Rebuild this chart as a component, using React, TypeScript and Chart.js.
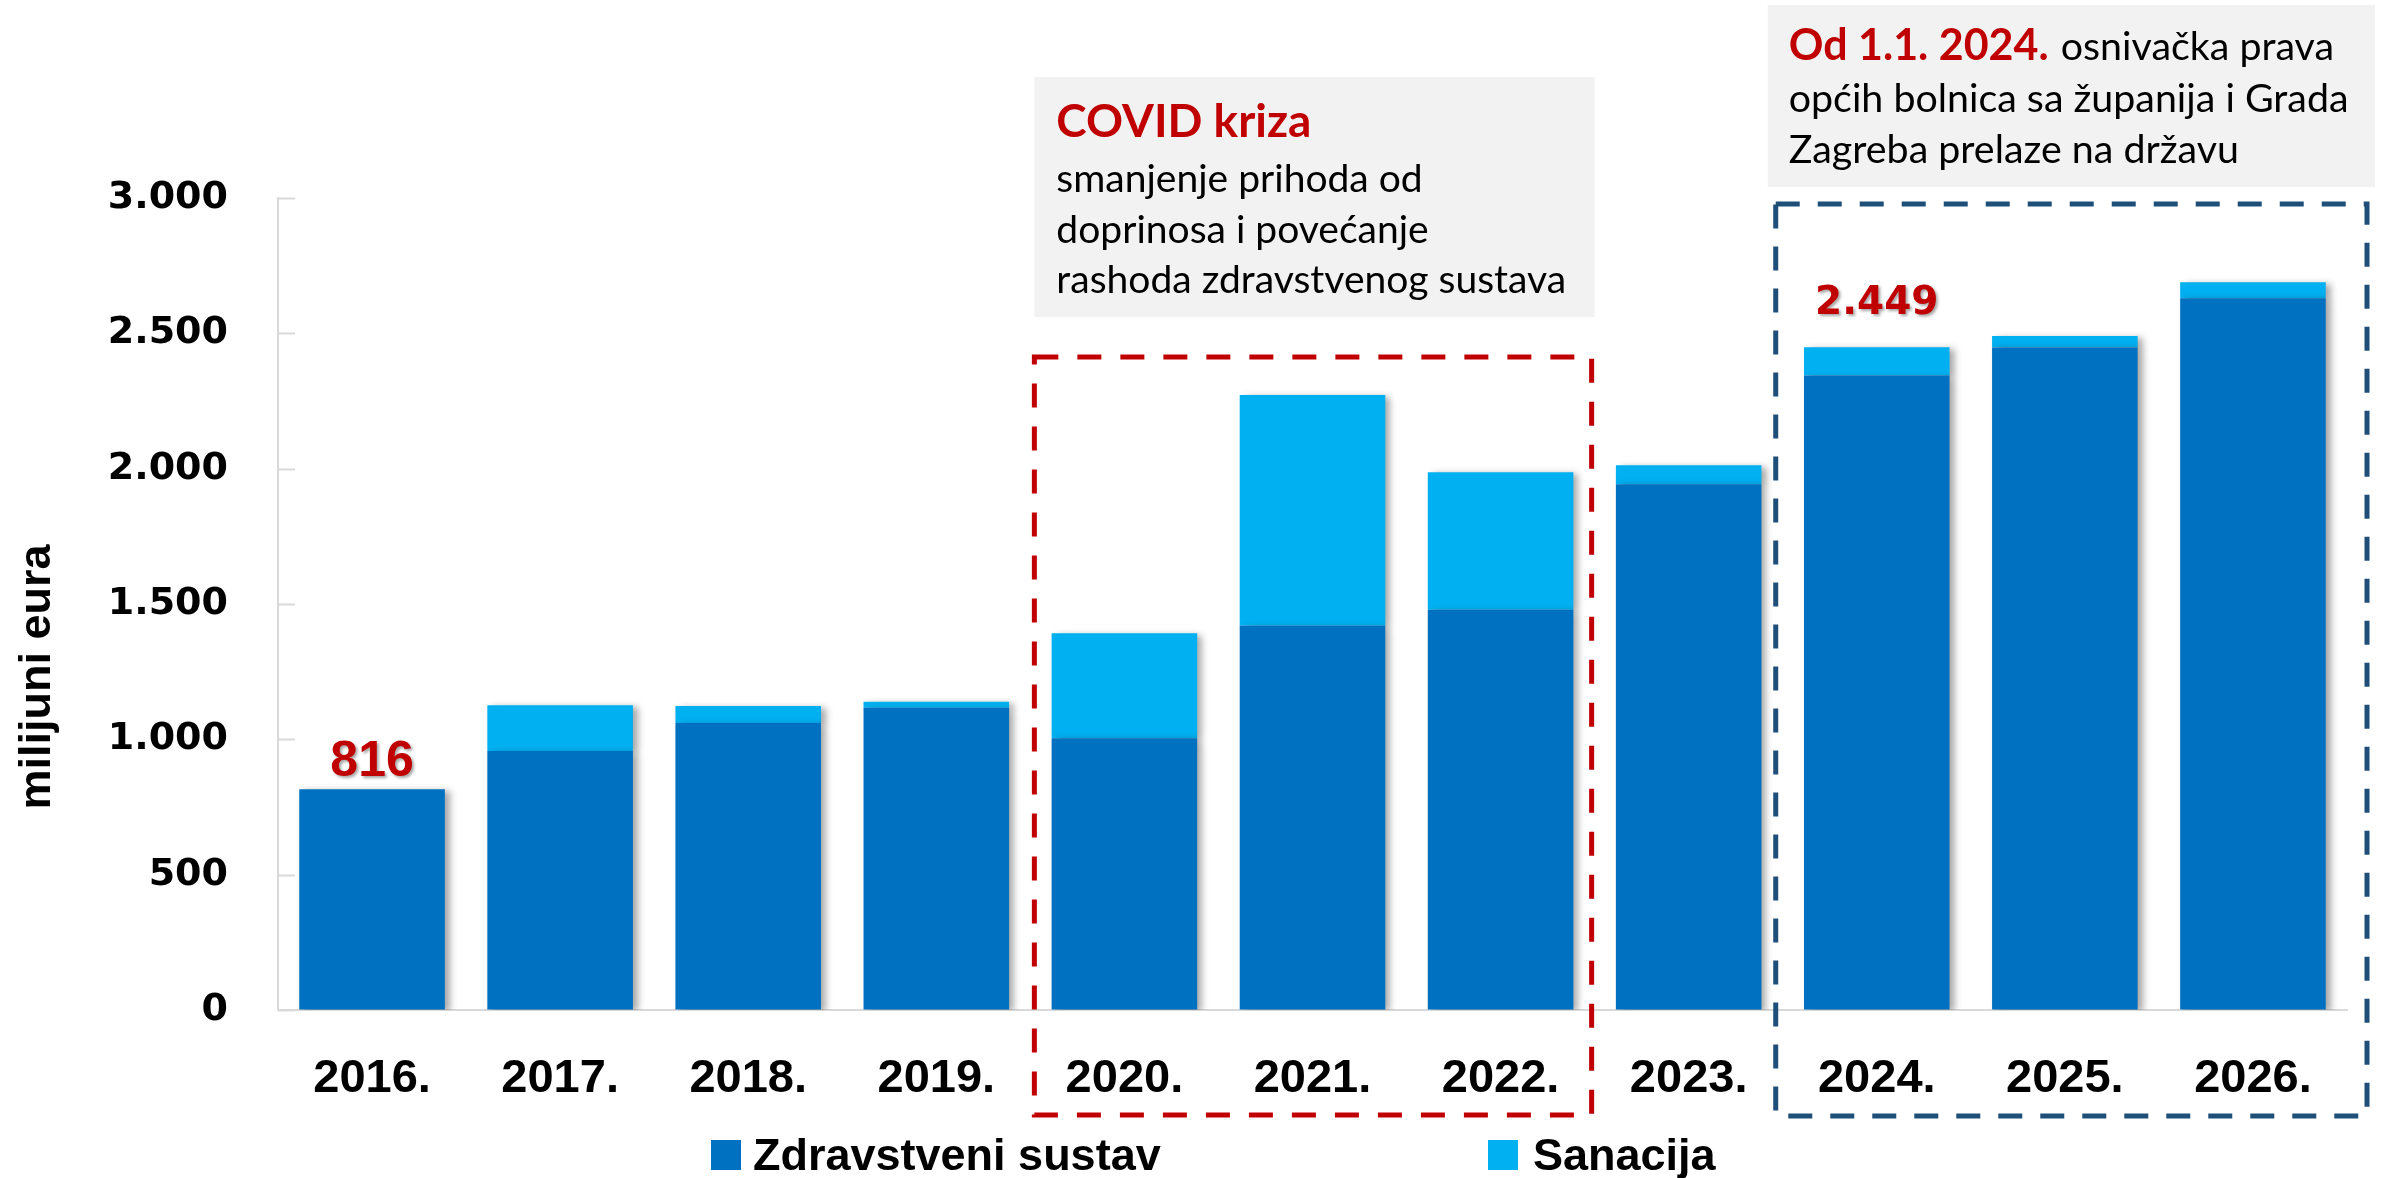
import { useEffect, useRef } from 'react';
import { Chart, registerables } from 'chart.js';

Chart.register(...registerables);

// ---------- data ----------
const years = ['2016.', '2017.', '2018.', '2019.', '2020.', '2021.', '2022.', '2023.', '2024.', '2025.', '2026.'];
const zdravstveniSustav = [816, 957, 1060, 1117, 1004, 1420, 1479, 1942, 2344, 2448, 2630];
const sanacija = [0, 169, 63, 22, 388, 852, 508, 71, 105, 42, 59];
const yTickValues = [0, 500, 1000, 1500, 2000, 2500, 3000];
const seriesNames = ['Zdravstveni sustav', 'Sanacija'];
const labelledYears = ['2016.', '2024.'];
const yAxisTitle = 'milijuni eura';
const covidTitle = 'COVID kriza';
const covidLines = ['smanjenje prihoda od', 'doprinosa i povećanje', 'rashoda zdravstvenog sustava'];
const covidYears = ['2020.', '2022.'];
const reformTitle = 'Od 1.1. 2024.';
const reformLines = [' osnivačka prava', 'općih bolnica sa županija i Grada', 'Zagreba prelaze na državu'];
const reformYears = ['2024.', '2026.'];

// ---------- styles ----------
const DARK = '#0070C0';
const LIGHT = '#00B0F0';
const RED = '#C00000';
const NAVY = '#1F4E79';
const AXIS = '#D9D9D9';
const BOXFILL = '#F2F2F2';
const W = 2387;
const H = 1178;

const fmt = (n: number) => String(Math.round(n)).replace(/\B(?=(\d{3})+(?!\d))/g, '.');

function fitSize(ctx: CanvasRenderingContext2D, text: string, weight: string, family: string, target: number) {
  ctx.font = `${weight} 100px ${family}`;
  const w = ctx.measureText(text).width;
  return (100 * target) / w;
}

const shadowPlugin = {
  id: 'barShadow',
  beforeDatasetsDraw(chart: any) {
    const ctx = chart.ctx;
    ctx.save();
    ctx.shadowColor = 'rgba(0,0,0,0.35)';
    ctx.shadowBlur = 7;
    ctx.shadowOffsetX = 5;
    ctx.shadowOffsetY = 2;
  },
  afterDatasetsDraw(chart: any) {
    chart.ctx.restore();
  },
};

const labelStyles: Record<string, { font: string; gap: number }> = {
  '2016.': { font: 'bold 50px "Liberation Sans", Arial, sans-serif', gap: 13 },
  '2024.': { font: 'bold 39px "DejaVu Sans", Verdana, sans-serif', gap: 33 },
};

const overlayPlugin = {
  id: 'overlay',
  afterDraw(chart: any) {
    const { ctx, chartArea, scales } = chart;
    const x = scales.x;
    const y = scales.y;
    const band = x.getPixelForValue(1) - x.getPixelForValue(0);
    ctx.save();

    // inner tick marks on the y axis
    ctx.strokeStyle = AXIS;
    ctx.lineWidth = 2;
    y.ticks.forEach((t: any) => {
      const py = Math.round(y.getPixelForValue(t.value)) + 0.5;
      ctx.beginPath();
      ctx.moveTo(chartArea.left, py);
      ctx.lineTo(chartArea.left + 17, py);
      ctx.stroke();
    });

    // y-axis title
    ctx.save();
    ctx.translate(50, 677);
    ctx.rotate(-Math.PI / 2);
    ctx.fillStyle = '#000';
    ctx.font = 'bold 45px "Liberation Sans", Arial, sans-serif';
    ctx.textAlign = 'center';
    ctx.textBaseline = 'alphabetic';
    ctx.fillText(yAxisTitle, 0, 0);
    ctx.restore();

    // ---------- COVID annotation ----------
    const cL = x.getPixelForValue(years.indexOf(covidYears[0])) - band / 2 + 4;
    const cR = x.getPixelForValue(years.indexOf(covidYears[1])) + band / 2 - 3;
    ctx.fillStyle = BOXFILL;
    ctx.fillRect(cL, 77, cR + 3 - cL, 240);
    const fam = 'Lato, "Open Sans", sans-serif';
    let s = fitSize(ctx, covidTitle, 'bold', fam, 255);
    ctx.font = `bold ${s}px ${fam}`;
    ctx.fillStyle = RED;
    ctx.textAlign = 'left';
    ctx.textBaseline = 'alphabetic';
    ctx.fillText(covidTitle, cL + 22, 137);
    s = fitSize(ctx, covidLines[2], 'normal', fam, 510);
    ctx.font = `normal ${s}px ${fam}`;
    ctx.fillStyle = '#000';
    covidLines.forEach((l, i) => ctx.fillText(l, cL + 22, 192 + i * 50.5));

    ctx.setLineDash([24, 19]);
    ctx.lineWidth = 5;
    ctx.strokeStyle = RED;
    ctx.strokeRect(cL, 357, cR - cL, chartArea.bottom + 105 - 357);

    // ---------- 2024 reform annotation ----------
    const rL = x.getPixelForValue(years.indexOf(reformYears[0])) - band / 2 - 7;
    const rR = x.getPixelForValue(years.indexOf(reformYears[1])) + band / 2 + 20;
    ctx.setLineDash([]);
    ctx.fillStyle = BOXFILL;
    ctx.fillRect(rL - 8, 5, rR - rL + 16, 182);
    s = fitSize(ctx, reformTitle, 'bold', fam, 260);
    ctx.font = `bold ${s}px ${fam}`;
    ctx.fillStyle = RED;
    ctx.fillText(reformTitle, rL + 13, 60);
    const tw = ctx.measureText(reformTitle).width;
    const ns = fitSize(ctx, reformLines[1], 'normal', fam, 560);
    ctx.font = `normal ${ns}px ${fam}`;
    ctx.fillStyle = '#000';
    ctx.fillText(reformLines[0], rL + 13 + tw + 2, 60);
    ctx.fillText(reformLines[1], rL + 13, 112);
    ctx.fillText(reformLines[2], rL + 13, 163);

    ctx.setLineDash([24, 18]);
    ctx.lineWidth = 5;
    ctx.strokeStyle = NAVY;
    ctx.strokeRect(rL, 204, rR - rL, chartArea.bottom + 106 - 204);
    ctx.setLineDash([]);

    // ---------- total labels ----------
    const topMeta = chart.getDatasetMeta(1);
    labelledYears.forEach((yr) => {
      const i = years.indexOf(yr);
      const el = topMeta.data[i];
      const total = zdravstveniSustav[i] + sanacija[i];
      const st = labelStyles[yr];
      ctx.save();
      ctx.font = st.font;
      ctx.textAlign = 'center';
      ctx.textBaseline = 'alphabetic';
      ctx.shadowColor = 'rgba(0,0,0,0.35)';
      ctx.shadowBlur = 3;
      ctx.shadowOffsetX = 2;
      ctx.shadowOffsetY = 2;
      ctx.fillStyle = RED;
      ctx.fillText(fmt(total), el.x, y.getPixelForValue(total) - st.gap);
      ctx.restore();
    });

    // ---------- legend ----------
    const legendItems = [
      { box: 711, text: 753 },
      { box: 1488, text: 1533 },
    ];
    chart.data.datasets.forEach((ds: any, i: number) => {
      const it = legendItems[i];
      ctx.fillStyle = ds.backgroundColor;
      ctx.fillRect(it.box, 1140, 30, 30);
      ctx.fillStyle = '#000';
      ctx.font = 'bold 45px "Liberation Sans", Arial, sans-serif';
      ctx.textAlign = 'left';
      ctx.textBaseline = 'alphabetic';
      ctx.fillText(ds.label, it.text, 1170);
    });

    ctx.restore();
  },
};

export default function App() {
  const ref = useRef<HTMLCanvasElement | null>(null);

  useEffect(() => {
    document.body.style.margin = '0';
    document.body.style.overflow = 'hidden';
    const canvas = ref.current;
    if (!canvas) return;
    const chart = new Chart(canvas, {
      type: 'bar',
      data: {
        labels: years,
        datasets: [
          { label: seriesNames[0], data: zdravstveniSustav, backgroundColor: DARK, borderWidth: 0 },
          { label: seriesNames[1], data: sanacija, backgroundColor: LIGHT, borderWidth: 0 },
        ],
      },
      options: {
        responsive: false,
        maintainAspectRatio: false,
        animation: false,
        devicePixelRatio: 1,
        layout: { padding: { top: 198, right: 40, bottom: 68, left: 0 } },
        datasets: { bar: { barPercentage: 0.774, categoryPercentage: 1 } },
        plugins: { legend: { display: false }, tooltip: { enabled: false }, title: { display: false } },
        scales: {
          x: {
            stacked: true,
            afterFit: (sc: any) => {
              sc.height = 100;
            },
            grid: { display: true, drawOnChartArea: false, drawTicks: false },
            border: { display: true, color: AXIS, width: 2 },
            ticks: {
              padding: 41,
              color: '#000',
              font: { family: '"Liberation Sans", Arial, sans-serif', size: 47, weight: 'bold' },
            },
          },
          y: {
            stacked: true,
            min: 0,
            max: 3000,
            afterFit: (sc: any) => {
              sc.width = 278;
            },
            afterBuildTicks: (sc: any) => {
              sc.ticks = yTickValues.map((v) => ({ value: v }));
            },
            grid: { display: true, drawOnChartArea: false, drawTicks: false },
            border: { display: true, color: AXIS, width: 2 },
            ticks: {
              padding: 50,
              color: '#000',
              font: { family: '"DejaVu Sans", Verdana, sans-serif', size: 38, weight: 'bold' },
              callback: (v: any) => fmt(Number(v)),
            },
          },
        },
      },
      plugins: [shadowPlugin, overlayPlugin],
    });
    return () => chart.destroy();
  }, []);

  return (
    <div style={{ width: W, height: H }}>
      <canvas ref={ref} width={W} height={H} style={{ display: 'block', width: W, height: H }} />
    </div>
  );
}
